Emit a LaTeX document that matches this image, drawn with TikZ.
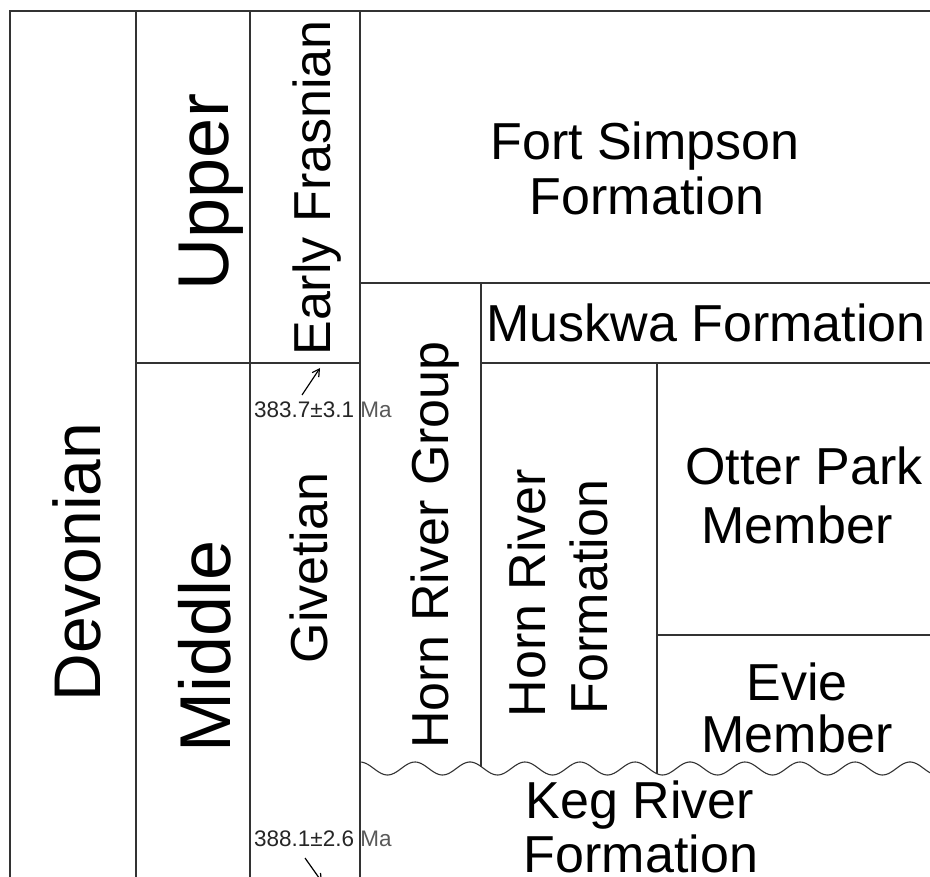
\documentclass[tikz,border=0pt]{standalone}
\usepackage{fontspec}
\setmainfont{Liberation Sans}
\usetikzlibrary{arrows.meta}
\begin{document}
\begin{tikzpicture}[x=1pt,y=-1pt,
  ln/.style={line width=1.6pt,draw=black!80},
  frame/.style={line width=2.2pt,draw=black!80},
  wave/.style={line width=1.1pt,draw=black!80},
  lbl/.style={inner sep=0pt,anchor=base,text=black,font=\fontsize{52}{62}\selectfont},
  vlbl/.style={lbl,rotate=90},
  age/.style={inner sep=0pt,anchor=base west,text=black!85,font=\fontsize{22.5}{27}\selectfont},
  agearrow/.style={line width=1.2pt,draw=black,-{Straight Barb[length=7pt,width=8pt]}}]
\useasboundingbox (0,0) rectangle (930,877);
\fill[white] (0,0) rectangle (930,877);
\clip (0,0) rectangle (930,877);
% frame and columns
\draw[frame] (10,880) -- (10,11) -- (931,11);
\draw[ln] (136,11) -- (136,880);
\draw[ln] (250,11) -- (250,880);
\draw[ln] (360,11) -- (360,880);
\draw[ln] (136,363) -- (360,363);
\draw[ln] (360,283) -- (931,283);
\draw[ln] (481,283) -- (481,766.5);
\draw[ln] (481,363) -- (931,363);
\draw[ln] (657,363) -- (657,773.8);
\draw[ln] (657,635) -- (931,635);
% unconformity
\draw[wave] plot[domain=360:932,samples=300,smooth] (\x,{768.5-6.5*cos(6.5455*(\x-360))});
% labels
\node[vlbl,font=\fontsize{66}{79}\selectfont] (devonian) at (100,562) {Devonian};
\node[vlbl,font=\fontsize{72}{86}\selectfont] (upper) at (228,192) {Upper};
\node[vlbl,font=\fontsize{72}{86}\selectfont] (middle) at (230,646) {Middle};
\node[vlbl] (frasnian) at (330,188) {Early Frasnian};
\node[vlbl] (givetian) at (327,568) {Givetian};
\node[vlbl] (hrg) at (448,545) {Horn River Group};
\node[vlbl] (hrf1) at (545,593) {Horn River};
\node[vlbl] (hrf2) at (607,597) {Formation};
\node[lbl] (fs1) at (645,160) {Fort Simpson};
\node[lbl] (fs2) at (647,215) {Formation};
\node[lbl] (muskwa) at (706,342) {Muskwa Formation};
\node[lbl] (op1) at (804,485) {Otter Park};
\node[lbl] (op2) at (797,543) {Member};
\node[lbl] (ev1) at (797,700) {Evie};
\node[lbl] (ev2) at (797,752) {Member};
\node[lbl] (kr1) at (640,818) {Keg River};
\node[lbl] (kr2) at (641,872) {Formation};
% ages
\node[age] (age1) at (254,418) {383.7±3.1 \textcolor{black!65}{Ma}};
\node[age] (age2) at (254,846) {388.1±2.6 \textcolor{black!65}{Ma}};
\coordinate (a1s) at (302,395);
\coordinate (a1e) at (320,368);
\coordinate (a2s) at (305,858);
\coordinate (a2e) at (322,882);
\draw[agearrow] (a1s) -- (a1e);
\draw[agearrow] (a2s) -- (a2e);
\end{tikzpicture}
\end{document}
